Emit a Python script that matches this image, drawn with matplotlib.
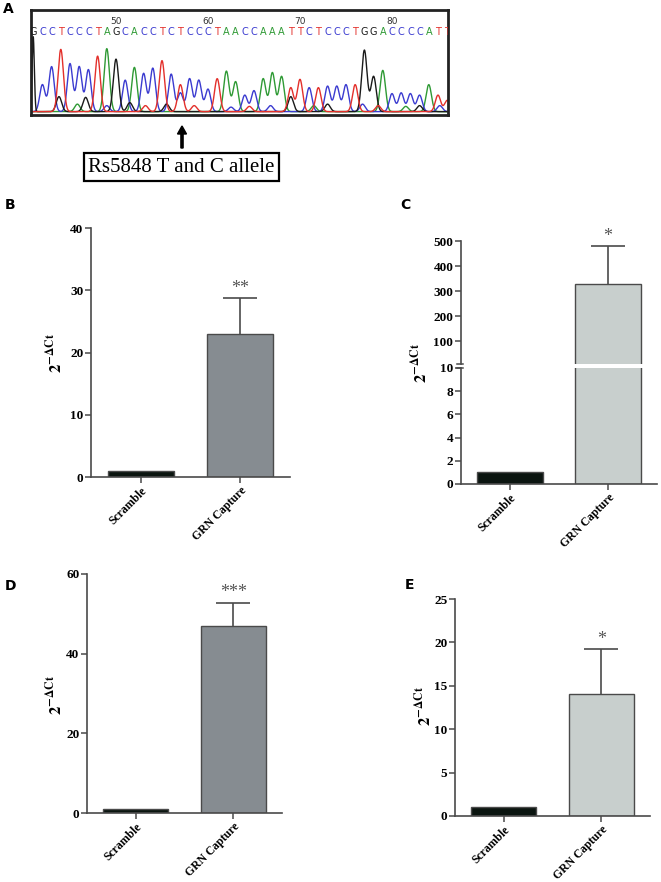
import numpy as np
import matplotlib
matplotlib.use("Agg")
import matplotlib.pyplot as plt
from matplotlib.lines import Line2D
from matplotlib.patches import FancyArrow

plt.rcParams['mathtext.fontset'] = 'stix'

# ---------------- data ----------------
seq_start = 41
sequence = "GCCTCCCTAGCACCTCTCCCTAACCAAATTCTCCCTGGACCCCATT"
peak_heights = [1.00, 0.36, 0.60, 0.83, 0.64, 0.60, 0.56, 0.74, 0.84, 0.70,
                0.42, 0.59, 0.51, 0.58, 0.68, 0.50, 0.36, 0.44, 0.42, 0.30,
                0.44, 0.54, 0.40, 0.22, 0.28, 0.44, 0.52, 0.47, 0.32, 0.43,
                0.32, 0.32, 0.34, 0.34, 0.36, 0.36, 0.82, 0.47, 0.55, 0.24,
                0.25, 0.24, 0.22, 0.36, 0.22, 0.15]
minor_pos = [43.8, 45.8, 46.7, 49.0, 51.5, 53.2, 55.5, 57.0, 58.5, 62.5,
             64.5, 66.8, 69.0, 71.5, 73.0, 76.8, 78.5, 81.5, 83.0, 85.2]
minor_base = ['G', 'A', 'G', 'C', 'G', 'T', 'G', 'C', 'T', 'C',
              'T', 'C', 'G', 'A', 'G', 'C', 'T', 'A', 'G', 'C']
minor_heights = [0.20, 0.10, 0.19, 0.08, 0.12, 0.08, 0.10, 0.25, 0.08, 0.06,
                 0.07, 0.08, 0.20, 0.08, 0.10, 0.10, 0.08, 0.07, 0.08, 0.08]
position_marks = [50, 60, 70, 80]

categories = ["Scramble", "GRN Capture"]
B_values = [1.0, 23.0]
B_err = [0.0, 5.7]
B_sig = "**"
C_values = [1.0, 330.0]
C_err = [0.0, 150.0]
C_sig = "*"
D_values = [1.0, 47.0]
D_err = [0.0, 5.8]
D_sig = "***"
E_values = [1.0, 14.0]
E_err = [0.0, 5.2]
E_sig = "*"

# ---------------- style ----------------
base_colors = {'A': '#2f9a35', 'C': '#3b3bd0', 'G': '#1a1a1a', 'T': '#e3302b'}
spine_col = '#4a4a4a'
scr_col = '#0b1510'
dark_grn = '#868c91'
light_grn = '#c8cfcd'
serif = 'Liberation Serif'

W, H = 661, 882
fig = plt.figure(figsize=(W / 100, H / 100), dpi=100)


def rect(l, r, t, b):
    return [l / W, 1 - b / H, (r - l) / W, (b - t) / H]


# ---------------- Panel A ----------------
axA = fig.add_axes(rect(31, 448, 10, 115))
xs = np.linspace(40.5, 86.6, 3000)
sig = 0.29
for base in "ACGT":
    y = np.zeros_like(xs)
    for i, (b, h) in enumerate(zip(sequence, peak_heights)):
        if b == base:
            s = 0.12 if i == 0 else sig
            y += h * np.exp(-(xs - (seq_start + i)) ** 2 / (2 * s ** 2))
    for p, b, h in zip(minor_pos, minor_base, minor_heights):
        if b == base:
            y += h * np.exp(-(xs - p) ** 2 / (2 * sig ** 2))
    axA.plot(xs, y + 0.005, color=base_colors[base], lw=1.0)
for i, b in enumerate(sequence):
    axA.text(seq_start + i, 1.07, b, color=base_colors[b], ha='center',
             va='center', fontsize=7, family='DejaVu Sans', clip_on=True)
for p in position_marks:
    axA.text(p, 1.20, str(p), color='#333333', ha='center', va='center',
             fontsize=6.5, family='DejaVu Sans')
axA.set_xlim(40.76, 86.09)
axA.set_ylim(-0.04, 1.36)
axA.set_xticks([])
axA.set_yticks([])
for sp in axA.spines.values():
    sp.set_linewidth(2.0)
    sp.set_color('#222222')

fig.text(8 / W, 1 - 9 / H, "A", fontsize=10, fontweight='bold',
         family='DejaVu Sans', ha='center', va='center')

fig.add_artist(FancyArrow(182 / W, 1 - 148 / H, 0, 22 / H, width=2.2 / W,
                          head_width=9 / W, head_length=8 / H,
                          length_includes_head=True, color='black',
                          transform=fig.transFigure))
fig.text(181.5 / W, 1 - 167 / H, "Rs5848 T and C allele", family=serif,
         fontsize=15, ha='center', va='center',
         bbox=dict(boxstyle='square,pad=0.22', fc='white', ec='black', lw=1.6))


# ---------------- bar helpers ----------------
def style_axis(ax, bottom=True):
    for s in ['top', 'right']:
        ax.spines[s].set_visible(False)
    ax.spines['left'].set_color(spine_col)
    ax.spines['left'].set_linewidth(1.2)
    ax.spines['bottom'].set_color(spine_col)
    ax.spines['bottom'].set_linewidth(1.2)
    ax.tick_params(axis='both', direction='out', length=4, width=1.1,
                   color=spine_col, pad=1.5)
    for lab in ax.get_yticklabels():
        lab.set_family(serif)
        lab.set_fontweight('bold')
        lab.set_fontsize(9.5)
    if not bottom:
        ax.spines['bottom'].set_visible(False)
        ax.set_xticks([])


def draw_bars(ax, values, errs, color2, sig_text=None, sig_off=1, capsize=12):
    xpos = np.arange(len(values))
    ax.bar(xpos, values, width=0.665, color=[scr_col, color2],
           edgecolor=spine_col, linewidth=1.0, zorder=2)
    eb = ax.errorbar(xpos[1:], values[1:], yerr=[[0], errs[1:]], fmt='none',
                     ecolor=spine_col, elinewidth=1.2, capsize=capsize,
                     capthick=1.2, zorder=1)
    caps = eb[1]
    if len(caps) > 1:
        caps[0].set_visible(False)
    for c in caps:
        c.set_clip_on(False)
    for c in eb[2]:
        c.set_clip_on(False)
    if sig_text:
        ax.annotate(sig_text, (xpos[1], values[1] + errs[1]),
                    xytext=(0, sig_off), textcoords='offset points',
                    ha='center', va='bottom', fontsize=13, color='#555555',
                    family=serif, annotation_clip=False)
    ax.set_xlim(-0.5, 1.5)


def xlabels(ax):
    ax.set_xticks([0, 1])
    ax.set_xticklabels(categories, rotation=45, ha='right',
                       rotation_mode='anchor', family=serif,
                       fontweight='bold', fontsize=8.5)


ylab = r'$\mathbf{2}^{\mathbf{-\Delta Ct}}$'

# ---------------- Panel B ----------------
axB = fig.add_axes(rect(91, 290, 228, 477))
draw_bars(axB, B_values, B_err, dark_grn, B_sig)
axB.set_ylim(0, 40)
axB.set_yticks([0, 10, 20, 30, 40])
xlabels(axB)
style_axis(axB)
fig.text(55 / W, 1 - 353 / H, ylab, rotation=90, ha='center', va='center',
         fontsize=12)
fig.text(10 / W, 1 - 205 / H, "B", fontsize=10, fontweight='bold',
         family='DejaVu Sans', ha='center', va='center')

# ---------------- Panel C (broken axis) ----------------
axCu = fig.add_axes(rect(461, 657, 241, 364))
axCl = fig.add_axes(rect(461, 657, 368, 484))
draw_bars(axCu, C_values, C_err, light_grn, C_sig)
draw_bars(axCl, C_values, C_err, light_grn)
axCu.set_ylim(10, 500)
axCu.set_yticks([100, 200, 300, 400, 500])
axCl.set_ylim(0, 10)
axCl.set_yticks([0, 2, 4, 6, 8, 10])
xlabels(axCl)
style_axis(axCu, bottom=False)
style_axis(axCl)
for ax_, yy in [(axCu, 0.0), (axCl, 1.0)]:
    ax_.add_line(Line2D([-0.022, 0.012], [yy, yy], transform=ax_.transAxes,
                        color=spine_col, lw=1.1, clip_on=False))
fig.text(420 / W, 1 - 363 / H, ylab, rotation=90, ha='center', va='center',
         fontsize=12)
fig.text(405 / W, 1 - 205 / H, "C", fontsize=10, fontweight='bold',
         family='DejaVu Sans', ha='center', va='center')

# ---------------- Panel D ----------------
axD = fig.add_axes(rect(87, 282, 574, 813))
draw_bars(axD, D_values, D_err, dark_grn, D_sig)
axD.set_ylim(0, 60)
axD.set_yticks([0, 20, 40, 60])
xlabels(axD)
style_axis(axD)
fig.text(55 / W, 1 - 695 / H, ylab, rotation=90, ha='center', va='center',
         fontsize=12)
fig.text(10 / W, 1 - 586 / H, "D", fontsize=10, fontweight='bold',
         family='DejaVu Sans', ha='center', va='center')

# ---------------- Panel E ----------------
axE = fig.add_axes(rect(455, 650, 599, 816))
draw_bars(axE, E_values, E_err, light_grn, E_sig)
axE.set_ylim(0, 25)
axE.set_yticks([0, 5, 10, 15, 20, 25])
xlabels(axE)
style_axis(axE)
fig.text(424 / W, 1 - 706 / H, ylab, rotation=90, ha='center', va='center',
         fontsize=12)
fig.text(410 / W, 1 - 585 / H, "E", fontsize=10, fontweight='bold',
         family='DejaVu Sans', ha='center', va='center')

fig.savefig("out.png", dpi=100)
